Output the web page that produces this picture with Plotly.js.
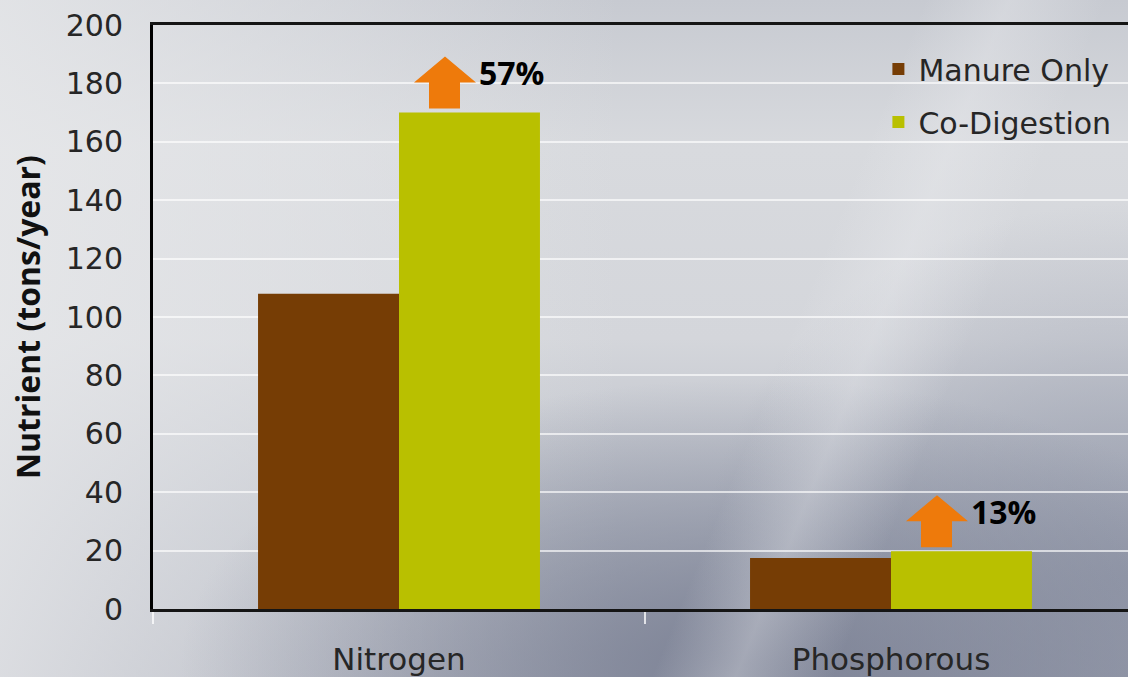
<!DOCTYPE html>
<html>
<head>
<meta charset="utf-8">
<script src="https://cdn.plot.ly/plotly-3.0.1.min.js"></script>
<style>
  html, body { margin: 0; padding: 0; }
  body {
    width: 1128px; height: 677px; overflow: hidden;
    background:
      linear-gradient(112deg, rgba(255,255,255,0) 66%, rgba(236,237,240,0.35) 72%, rgba(255,255,255,0) 79%),
      radial-gradient(ellipse 50% 42% at 66% 98%, rgba(120,126,146,0.9) 0%, rgba(120,126,146,0) 100%),
      radial-gradient(ellipse 38% 55% at 100% 85%, rgba(140,146,164,0.75) 0%, rgba(140,146,164,0) 100%),
      linear-gradient(to right, rgba(232,233,235,0.8) 0%, rgba(232,233,235,0.4) 30%, rgba(232,233,235,0) 55%),
      linear-gradient(to bottom, #c7cad1 0%, #d8dade 22%, #d4d6db 50%, #b7bbc5 78%, #a5a9b6 100%);
  }
  #chart { width: 1128px; height: 677px; }
</style>
</head>
<body>
<div id="chart"></div>
<script>
// Nutrient output per year for the two digestion scenarios
const categories = ['Nitrogen', 'Phosphorous'];
const manureOnly = [108, 17.5];
const coDigestion = [170, 19.8];
const yTicks = [0, 20, 40, 60, 80, 100, 120, 140, 160, 180, 200];

const tickFont = { family: 'DejaVu Sans', size: 30, color: '#262626' };

const traces = [
  {
    type: 'bar', name: 'Manure Only', x: categories, y: manureOnly,
    marker: { color: '#763d05', line: { width: 0 } },
    legendgroup: 'a', hoverinfo: 'skip'
  },
  {
    type: 'bar', name: 'Co-Digestion', x: categories, y: coDigestion,
    marker: { color: '#b9c000', line: { width: 0 } },
    legendgroup: 'b', hoverinfo: 'skip'
  }
];

// Orange "increase" arrow above each co-digestion bar, sized in pixels
const arrowPath = 'M30,4 L61,4 L61,30 L77,30 L46,56 L15,30 L30,30 Z';
const shapes = categories.map((c, i) => ({
  type: 'path', xref: 'x', yref: 'y',
  xsizemode: 'pixel', ysizemode: 'pixel',
  xanchor: i, yanchor: coDigestion[i],
  path: arrowPath,
  fillcolor: '#ee7a0b', line: { width: 0 }, layer: 'above'
}));

// Percentage increase labels computed from the series
const annotations = categories.map((c, i) => ({
  xref: 'x', yref: 'y', x: i, y: coDigestion[i],
  xanchor: 'left', yanchor: 'middle', xshift: 78, yshift: 40,
  showarrow: false,
  text: '<b>' + Math.round((coDigestion[i] / manureOnly[i] - 1) * 100) + '%</b>',
  font: { family: 'Open Sans', size: 32, color: '#000000' }
}));

const layout = {
  width: 1128, height: 677,
  margin: { l: 153, r: 0, t: 25, b: 68, pad: 0 },
  paper_bgcolor: 'rgba(0,0,0,0)',
  plot_bgcolor: 'rgba(0,0,0,0)',
  barmode: 'group', bargap: 0.427, bargroupgap: 0,
  showlegend: true,
  legend: {
    x: 0.744, y: 0.969, xanchor: 'left', yanchor: 'top',
    bgcolor: 'rgba(0,0,0,0)', borderwidth: 0,
    traceorder: 'grouped', tracegroupgap: 11,
    font: { family: 'DejaVu Sans', size: 30, color: '#262626' }
  },
  xaxis: {
    type: 'category', range: [-0.5, 1.4817],
    showline: true, linecolor: '#151515', linewidth: 3, mirror: true,
    showgrid: false, zeroline: false,
    ticks: 'outside', tickson: 'boundaries', ticklen: 12, tickwidth: 2,
    tickcolor: 'rgba(255,255,255,0.75)',
    ticklabelstandoff: 21,
    tickfont: { family: 'DejaVu Sans', size: 31, color: '#262626' }
  },
  yaxis: {
    range: [0, 200], tickvals: yTicks,
    showline: true, linecolor: '#000000', linewidth: 3, mirror: false,
    showgrid: true, gridcolor: 'rgba(255,255,255,0.65)', gridwidth: 2,
    zeroline: false, ticks: '',
    ticklabelstandoff: 21,
    tickfont: tickFont,
    automargin: true,
    title: {
      text: '<b>Nutrient (tons/year)</b>', standoff: 16,
      font: { family: 'Open Sans', size: 32, color: '#111111' }
    }
  },
  shapes: shapes,
  annotations: annotations
};

Plotly.newPlot('chart', traces, layout, { staticPlot: true, displayModeBar: false });
</script>
</body>
</html>
